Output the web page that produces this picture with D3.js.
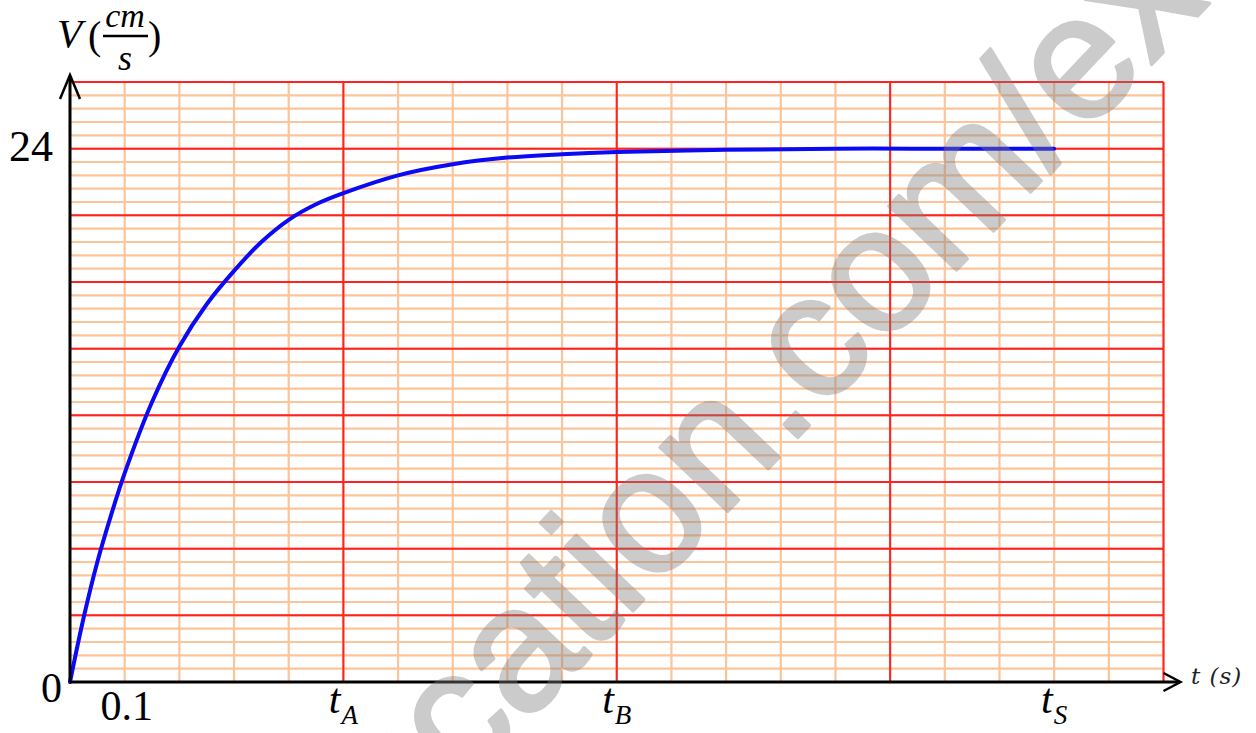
<!DOCTYPE html>
<html>
<head>
<meta charset="utf-8">
<script src="https://cdn.jsdelivr.net/npm/d3@7"></script>
<style>
  html, body { margin: 0; padding: 0; background: #fff; }
  svg { display: block; }
</style>
</head>
<body>
<div id="chart"></div>
<script>
// values
const tValues = [0, 0.025, 0.05, 0.075, 0.1, 0.15, 0.2, 0.25, 0.3, 0.35, 0.4, 0.45, 0.5, 0.6, 0.7, 0.8, 0.9, 1.0, 1.2, 1.4, 1.6, 1.8];
const vValues = [0, 2.9, 5.4, 7.5, 9.4, 12.6, 15.1, 17.0, 18.5, 19.8, 20.8, 21.5, 22.0, 22.8, 23.3, 23.6, 23.75, 23.85, 23.95, 24, 24, 24];

const xTickLabels = [
    { t: 0.1, main: "0.1", sub: "" },
    { t: 0.5, main: "t", sub: "A" },
    { t: 1.0, main: "t", sub: "B" },
    { t: 1.8, main: "t", sub: "S" }
];
const yTickLabels = [24];

const xMax = 2.0;     // 20 small squares of 0.1 s
const yMax = 27;      // 9 big squares of 3 cm/s
const xMinorStep = 0.1, xMajorStep = 0.5;
const yMinorStep = 0.6, yMajorStep = 3;

const points = tValues.map((t, i) => ({ t, v: vValues[i] }));

function draw() {
    const width = 1256, height = 733;
    const svg = d3.select("#chart").append("svg")
        .attr("width", width)
        .attr("height", height);

    const x = d3.scaleLinear().domain([0, xMax]).range([70, 1163.5]);
    const y = d3.scaleLinear().domain([0, yMax]).range([682, 82]);

    const serif = "'Liberation Serif', 'Times New Roman', serif";

    // graph paper
    const grid = svg.append("g");
    const xMinor = d3.range(0, xMax + 1e-9, xMinorStep);
    const yMinor = d3.range(0, yMax + 1e-9, yMinorStep);
    const xMajor = d3.range(0, xMax + 1e-9, xMajorStep);
    const yMajor = d3.range(0, yMax + 1e-9, yMajorStep);

    grid.selectAll("line.vmin").data(xMinor).join("line")
        .attr("x1", d => x(d)).attr("x2", d => x(d))
        .attr("y1", y(0)).attr("y2", y(yMax))
        .attr("stroke", "#fcc49a").attr("stroke-width", 2.2);
    grid.selectAll("line.hmin").data(yMinor).join("line")
        .attr("x1", x(0)).attr("x2", x(xMax))
        .attr("y1", d => y(d)).attr("y2", d => y(d))
        .attr("stroke", "#fcc49a").attr("stroke-width", 2.2);
    grid.selectAll("line.vmaj").data(xMajor).join("line")
        .attr("x1", d => x(d)).attr("x2", d => x(d))
        .attr("y1", y(0)).attr("y2", y(yMax))
        .attr("stroke", "#ff2222").attr("stroke-width", 2);
    grid.selectAll("line.hmaj").data(yMajor).join("line")
        .attr("x1", x(0)).attr("x2", x(xMax))
        .attr("y1", d => y(d)).attr("y2", d => y(d))
        .attr("stroke", "#ff2222").attr("stroke-width", 2);

    // curve
    const line = d3.line()
        .x(d => x(d.t))
        .y(d => y(d.v))
        .curve(d3.curveCatmullRom.alpha(0.5));
    svg.append("path")
        .datum(points)
        .attr("d", line)
        .attr("fill", "none")
        .attr("stroke", "#0a0af5")
        .attr("stroke-width", 4)
        .attr("stroke-linecap", "round");

    // axes with open arrow heads
    const axes = svg.append("g").attr("stroke", "#000").attr("fill", "none")
        .attr("stroke-width", 3);
    axes.append("line")
        .attr("x1", x(0)).attr("y1", y(0))
        .attr("x2", x(xMax) + 16).attr("y2", y(0));
    axes.append("polyline")
        .attr("points", `${x(xMax)},${y(0) - 9} ${x(xMax) + 17},${y(0)} ${x(xMax)},${y(0) + 9}`)
        .attr("stroke-width", 2.5);
    axes.append("line")
        .attr("x1", x(0)).attr("y1", y(0))
        .attr("x2", x(0)).attr("y2", y(yMax) - 6);
    axes.append("polyline")
        .attr("points", `${x(0) - 10},${y(yMax) + 17} ${x(0)},${y(yMax) - 7} ${x(0) + 10},${y(yMax) + 17}`)
        .attr("stroke-width", 2.5);

    // tick labels
    svg.selectAll("text.ylab").data(yTickLabels).join("text")
        .attr("x", x(0) - 17)
        .attr("y", d => y(d) + 12)
        .attr("text-anchor", "end")
        .attr("font-family", serif)
        .attr("font-size", 44)
        .text(d => d);

    svg.append("text")
        .attr("x", x(0) - 8)
        .attr("y", y(0) + 20)
        .attr("text-anchor", "end")
        .attr("font-family", serif)
        .attr("font-size", 42)
        .text("0");

    const xl = svg.selectAll("text.xlab").data(xTickLabels).join("text")
        .attr("x", d => x(d.t) + (d.sub ? 0 : 2))
        .attr("y", d => d.sub ? 713 : 720)
        .attr("text-anchor", "middle")
        .attr("font-family", serif)
        .attr("font-size", 42);
    xl.append("tspan")
        .attr("font-style", d => d.sub ? "italic" : "normal")
        .text(d => d.main);
    xl.filter(d => d.sub).append("tspan")
        .attr("dy", 11)
        .attr("dx", 1)
        .attr("font-style", "italic")
        .attr("font-size", 27)
        .text(d => d.sub);

    // axis titles
    svg.append("text")
        .attr("x", 1191).attr("y", 684)
        .attr("font-family", "'DejaVu Serif', serif")
        .attr("font-style", "italic")
        .attr("font-size", 23)
        .attr("letter-spacing", 1)
        .attr("fill", "#222")
        .text("t (s)");

    const vt = svg.append("g").attr("font-family", serif);
    vt.append("text").attr("x", 57).attr("y", 47)
        .attr("font-size", 41).attr("font-style", "italic").text("V");
    vt.append("text").attr("x", 88).attr("y", 49)
        .attr("font-size", 40).text("(");
    vt.append("text").attr("x", 125).attr("y", 27)
        .attr("text-anchor", "middle")
        .attr("font-size", 34).attr("font-style", "italic").text("cm");
    vt.append("line").attr("x1", 103).attr("x2", 148)
        .attr("y1", 36).attr("y2", 36)
        .attr("stroke", "#000").attr("stroke-width", 2.5);
    vt.append("text").attr("x", 125).attr("y", 70)
        .attr("text-anchor", "middle")
        .attr("font-size", 36).attr("font-style", "italic").text("s");
    vt.append("text").attr("x", 148).attr("y", 49)
        .attr("font-size", 40).text(")");

    // watermark, split at the "o" of "cation"; group opacity so the
    // thickening stroke does not double up with the fill
    const wm = svg.append("g")
        .attr("transform", "translate(652,591) rotate(-46.5)")
        .attr("opacity", 0.4)
        .attr("font-family", "'Liberation Sans', Arial, sans-serif")
        .attr("font-size", 176)
        .attr("fill", "#7f7f7f")
        .attr("stroke", "#7f7f7f")
        .attr("stroke-width", 3.5)
        .attr("stroke-linejoin", "round");
    wm.append("text").attr("text-anchor", "end").text("ency-educati");
    wm.append("text").attr("text-anchor", "start").text("on.com/exams");
}

draw();
</script>
</body>
</html>
